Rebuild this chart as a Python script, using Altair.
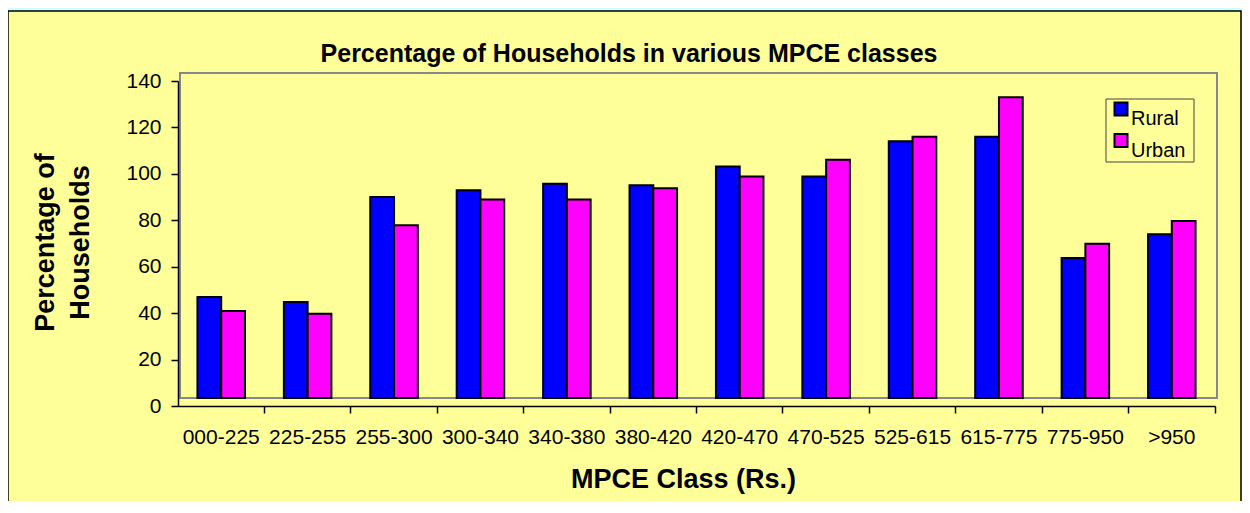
import altair as alt
import pandas as pd

classes = ["000-225", "225-255", "255-300", "300-340", "340-380", "380-420",
           "420-470", "470-525", "525-615", "615-775", "775-950", ">950"]
rural = [43.5, 41.4, 86.6, 89.5, 92.3, 91.7, 99.7, 95.4, 110.6, 112.5, 60.3, 70.5]
urban = [37.5, 36.3, 74.4, 85.5, 85.5, 90.4, 95.4, 102.6, 112.5, 129.6, 66.4, 76.3]
series = ["Rural", "Urban"]
colors = ["#0000FF", "#FF00FF"]
y_ticks = [0, 20, 40, 60, 80, 100, 120, 140]
title_text = "Percentage of Households in various MPCE classes"

rows = []
for i, c in enumerate(classes):
    rows.append({"cls": c, "series": "Rural", "value": rural[i]})
    rows.append({"cls": c, "series": "Urban", "value": urban[i]})
df = pd.DataFrame(rows)

W, H = 1037, 325
FONT = "Liberation Sans"
YELLOW = "#FFFF99"
PAD_IN = 0.45
PAD_OUT = PAD_IN / 2

one = pd.DataFrame({"t": [title_text]})

panel = alt.Chart(one).mark_rect(fill=YELLOW, stroke="#000000", strokeWidth=1.5).encode(
    x=alt.value(-170), x2=alt.value(1063), y=alt.value(-70), y2=alt.value(520)
)
wall = alt.Chart(one).mark_rect(fill=YELLOW, stroke="#888888", strokeWidth=2).encode(
    x=alt.value(2), x2=alt.value(W + 2), y=alt.value(-8), y2=alt.value(H - 8)
)
legend_box = alt.Chart(one).mark_rect(fill=YELLOW, stroke="#444444", strokeWidth=1).encode(
    x=alt.value(928), x2=alt.value(1016), y=alt.value(18), y2=alt.value(81)
)
title = alt.Chart(one).mark_text(font=FONT, fontSize=25, fontWeight="bold", color="#000000",
                                 align="center", baseline="alphabetic").encode(
    text="t:N", x=alt.value(451), y=alt.value(-19)
)

# ticks on step boundaries: position beyond the band end by half the inner gap
band_pos = 1 + (PAD_IN / 2) / (1 - PAD_IN)

bars = alt.Chart(df).mark_bar(stroke="#000000", strokeWidth=2, yOffset=-8, y2Offset=-8).encode(
    x=alt.X("cls:N", sort=classes,
            scale=alt.Scale(paddingInner=PAD_IN, paddingOuter=PAD_OUT),
            axis=alt.Axis(title="MPCE Class (Rs.)", labelAngle=0, labelFontSize=21,
                          labelFont=FONT, labelColor="#000000", labelBaseline="top",
                          labelPadding=13, bandPosition=band_pos, tickSize=7,
                          tickColor="#000000", domainColor="#000000", zindex=5,
                          domainWidth=1.5, tickWidth=1.5,
                          titleFont=FONT, titleFontSize=27, titleFontWeight="bold",
                          titleColor="#000000", titleX=505, titleY=81,
                          titleBaseline="alphabetic", titleAlign="center")),
    xOffset=alt.XOffset("series:N", sort=series,
                        scale=alt.Scale(paddingInner=0, paddingOuter=0)),
    y=alt.Y("value:Q", scale=alt.Scale(domain=[0, 140], nice=False),
            axis=alt.Axis(title=["Percentage of", "Households"], values=y_ticks,
                          grid=False, labelFontSize=21, labelFont=FONT,
                          labelColor="#000000", labelPadding=10, tickSize=7,
                          tickColor="#000000", domainColor="#000000", zindex=5,
                          domainWidth=1.5, tickWidth=1.5,
                          titleFont=FONT, titleFontSize=27, titleFontWeight="bold",
                          titleColor="#000000", titleX=-125, titleY=161,
                          titleAngle=270, titleAlign="center",
                          titleBaseline="alphabetic", titleLineHeight=35)),
    color=alt.Color("series:N", sort=series,
                    scale=alt.Scale(domain=series, range=colors),
                    legend=alt.Legend(title=None, orient="none", legendX=933, legendY=18,
                                      symbolType="square", symbolSize=169,
                                      symbolStrokeColor="#000000", symbolStrokeWidth=2,
                                      labelFont=FONT, labelFontSize=20, labelColor="#000000",
                                      labelBaseline="top", labelOffset=0, rowPadding=0.5,
                                      padding=0, symbolOpacity=1, zindex=5)),
)

chart = alt.layer(panel, wall, legend_box, title, bars).properties(
    width=W, height=H,
    padding={"left": 170, "top": 73, "right": 27, "bottom": 95},
    autosize=alt.AutoSizeParams(type="none"),
    background="#CCFFFF",
).configure_view(stroke=None)

chart.save("out.html", embed_options={"renderer": "svg", "actions": False})
